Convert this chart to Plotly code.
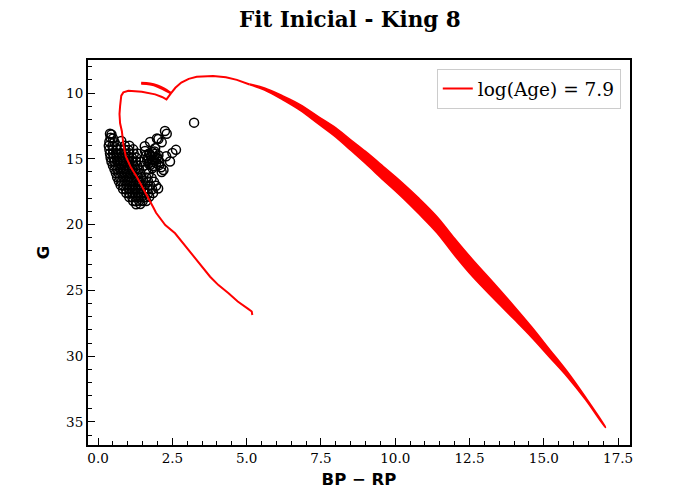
import plotly.graph_objects as go

# isochrone (log Age = 7.9): main sequence -> turnoff -> giant branch
iso_bp_rp = [5.19, 5.17, 5.05, 4.70, 4.39, 4.05, 3.77, 3.45, 3.15, 2.85, 2.59, 2.26,
             2.09, 1.95, 1.86, 1.72, 1.60, 1.47, 1.30, 1.10, 0.93, 0.85, 0.80, 0.74,
             0.72, 0.74, 0.75, 0.78, 0.85, 1.02, 1.47, 1.92, 2.15, 2.30, 2.45, 2.60,
             2.80, 3.05, 3.32, 3.87, 4.30, 4.67, 5.10]
iso_g = [26.87, 26.60, 26.40, 25.85, 25.22, 24.60, 23.96, 23.05, 22.18, 21.40, 20.66, 20.03,
         19.55, 19.10, 18.70, 18.10, 17.60, 17.00, 16.36, 15.65, 14.80, 13.90, 12.90, 12.30,
         11.60, 11.00, 10.50, 10.20, 9.95, 9.83, 9.90, 10.10, 10.30, 10.48, 10.02, 9.60,
         9.20, 8.92, 8.77, 8.71, 8.80, 9.00, 9.35]

# short loop near the top of the giant branch (drawn twice, slightly apart)
hook_bp_rp = [1.45, 1.75, 2.00, 2.20, 2.45]
hook_g_a = [9.22, 9.27, 9.42, 9.62, 9.98]
hook_g_b = [9.30, 9.36, 9.52, 9.74, 10.02]

# broad AGB band: bright and faint edge at each colour
band_bp_rp = [5.10, 5.60, 6.20, 6.80, 7.40, 8.00, 8.50, 9.00, 9.60, 10.20, 10.80,
              11.40, 12.00, 12.60, 13.30, 14.00, 14.60, 15.20, 15.80, 16.40, 17.07]
band_g_top = [9.32, 9.62, 10.20, 10.88, 11.77, 12.65, 13.55, 14.44, 15.58, 16.74, 18.00,
              19.38, 21.05, 22.65, 24.40, 26.20, 27.80, 29.50, 31.20, 33.10, 35.38]
band_g_bot = [9.38, 9.78, 10.50, 11.32, 12.33, 13.35, 14.35, 15.36, 16.62, 17.86, 19.20,
              20.62, 22.35, 23.95, 25.60, 27.20, 28.60, 30.10, 31.60, 33.30, 35.42]

# observed cluster members (King 8)
star_bp_rp = [
    # outliers and the red clump
    3.23, 2.25, 2.31, 2.03, 1.98, 2.14, 1.75, 1.57, 2.62, 2.42, 2.29, 2.20, 2.14, 2.50,
    1.62, 1.72, 1.82, 1.93, 2.03, 1.68, 1.78, 1.88, 1.97, 1.65, 1.80, 1.90, 2.02, 1.70, 1.84, 1.95,
    2.06, 1.74, 1.90, 2.05, 1.86, 1.76, 1.58, 2.12, 1.83, 1.92,
    # main sequence
    0.40, 0.45, 0.42, 0.50, 0.38, 0.55, 0.78,
    0.36, 0.48, 0.62, 0.90, 1.05,
    0.38, 0.50, 0.62, 0.74, 0.88, 1.02, 1.18,
    0.40, 0.50, 0.60, 0.70, 0.80, 0.92, 1.05, 1.20, 1.32,
    0.42, 0.52, 0.62, 0.72, 0.82, 0.92, 1.02, 1.14, 1.28,
    0.45, 0.55, 0.65, 0.75, 0.85, 0.95, 1.05, 1.15, 1.28, 1.45,
    0.50, 0.60, 0.70, 0.80, 0.90, 1.00, 1.10, 1.20, 1.32, 1.52,
    0.55, 0.65, 0.75, 0.85, 0.95, 1.05, 1.15, 1.25, 1.38, 1.62,
    0.60, 0.70, 0.80, 0.90, 1.00, 1.10, 1.20, 1.30, 1.42, 1.70,
    0.64, 0.74, 0.84, 0.94, 1.04, 1.14, 1.24, 1.34, 1.46, 1.62, 1.80,
    0.70, 0.80, 0.90, 1.00, 1.10, 1.20, 1.30, 1.40, 1.52, 1.68, 1.88,
    0.76, 0.86, 0.96, 1.06, 1.16, 1.26, 1.36, 1.46, 1.58, 1.75, 1.95,
    0.84, 0.94, 1.04, 1.14, 1.24, 1.34, 1.44, 1.54, 1.66, 1.82, 2.02,
    0.95, 1.05, 1.15, 1.25, 1.35, 1.45, 1.55, 1.68, 1.85,
    1.05, 1.15, 1.25, 1.35, 1.45, 1.58, 1.72,
    1.18, 1.28, 1.38, 1.50, 1.62,
    1.28, 1.42,
]
star_g = [
    12.25, 12.88, 13.10, 13.50, 13.45, 13.75, 13.72, 14.05, 14.32, 15.20, 14.80, 15.85, 16.00, 14.55,
    14.75, 14.60, 14.50, 14.62, 14.72, 14.95, 14.82, 14.88, 14.92, 15.15, 15.05, 15.12, 15.02, 15.35, 15.25, 15.32,
    15.22, 14.68, 14.45, 15.48, 15.55, 15.45, 14.40, 15.65, 15.70, 14.20,
    13.10, 13.15, 13.40, 13.45, 13.70, 13.72, 13.65,
    14.00, 14.02, 13.98, 14.01, 14.00,
    14.30, 14.32, 14.28, 14.31, 14.30, 14.33, 14.28,
    14.60, 14.62, 14.58, 14.61, 14.60, 14.63, 14.58, 14.62, 14.60,
    14.90, 14.92, 14.88, 14.91, 14.90, 14.93, 14.88, 14.92, 14.90,
    15.20, 15.22, 15.18, 15.21, 15.20, 15.23, 15.18, 15.22, 15.20, 15.22,
    15.50, 15.52, 15.48, 15.51, 15.50, 15.53, 15.48, 15.52, 15.50, 15.52,
    15.80, 15.82, 15.78, 15.81, 15.80, 15.83, 15.78, 15.82, 15.80, 15.82,
    16.10, 16.12, 16.08, 16.11, 16.10, 16.13, 16.08, 16.12, 16.10, 16.12,
    16.40, 16.42, 16.38, 16.41, 16.40, 16.43, 16.38, 16.42, 16.40, 16.42, 16.45,
    16.70, 16.72, 16.68, 16.71, 16.70, 16.73, 16.68, 16.72, 16.70, 16.72, 16.75,
    17.00, 17.02, 16.98, 17.01, 17.00, 17.03, 16.98, 17.02, 17.00, 17.02, 17.05,
    17.30, 17.32, 17.28, 17.31, 17.30, 17.33, 17.28, 17.32, 17.30, 17.32, 17.25,
    17.60, 17.62, 17.58, 17.61, 17.60, 17.63, 17.58, 17.62, 17.60,
    17.90, 17.92, 17.88, 17.91, 17.90, 17.93, 17.88,
    18.20, 18.22, 18.18, 18.21, 18.20,
    18.45, 18.43,
]

iso_red = "#ff0000"

fig = go.Figure()

# stars as open black circles
fig.add_trace(go.Scatter(x=star_bp_rp, y=star_g, mode="markers",
                         marker=dict(symbol="circle-open", size=9, color="black",
                                     line=dict(width=1.5)),
                         showlegend=False))

# AGB band as a filled polygon between its two edges
fig.add_trace(go.Scatter(x=band_bp_rp + band_bp_rp[::-1],
                         y=band_g_top + band_g_bot[::-1],
                         mode="lines", fill="toself", fillcolor=iso_red,
                         line=dict(color=iso_red, width=1.5, shape="spline"),
                         showlegend=False, hoverinfo="skip"))

fig.add_trace(go.Scatter(x=hook_bp_rp, y=hook_g_a, mode="lines",
                         line=dict(color=iso_red, width=2, shape="spline"), showlegend=False))
fig.add_trace(go.Scatter(x=hook_bp_rp, y=hook_g_b, mode="lines",
                         line=dict(color=iso_red, width=2, shape="spline"), showlegend=False))

fig.add_trace(go.Scatter(x=iso_bp_rp, y=iso_g, mode="lines",
                         line=dict(color=iso_red, width=2),
                         name="log(Age) = 7.9"))

axis_style = dict(showline=True, linecolor="black", linewidth=2, mirror=True,
                  ticks="inside", ticklen=7, tickwidth=1.3, tickcolor="black",
                  showgrid=False, zeroline=False,
                  tickfont=dict(family="DejaVu Serif", size=13.5, color="black"))

fig.update_xaxes(range=[-0.34, 17.9], dtick=2.5, tickformat=".1f",
                 minor=dict(dtick=0.5, ticks="inside", ticklen=4, tickcolor="black", tickwidth=1),
                 title=dict(text="<b>BP − RP</b>", standoff=8,
                            font=dict(family="DejaVu Sans", size=16.5, color="black")),
                 **axis_style)
fig.update_yaxes(range=[36.75, 7.49], dtick=5,
                 minor=dict(dtick=1, ticks="inside", ticklen=4, tickcolor="black", tickwidth=1),
                 title=dict(text="<b>G</b>", standoff=12,
                            font=dict(family="DejaVu Sans", size=16.5, color="black")),
                 **axis_style)

# page body has an 8px margin, so the figure is a bit smaller than the window
fig.update_layout(
    width=692, height=492,
    paper_bgcolor="white", plot_bgcolor="white",
    margin=dict(l=80, r=70, t=52, b=55),
    title=dict(text="<b>Fit Inicial - King 8</b>", x=0.494, xref="container",
               y=0.976, yanchor="middle",
               font=dict(family="DejaVu Serif", size=21.5, color="black")),
    legend=dict(x=0.983, y=0.977, xanchor="right", yanchor="top",
                bgcolor="white", bordercolor="#cccccc", borderwidth=1,
                font=dict(family="DejaVu Serif", size=18.5, color="black")),
)

fig.write_html("out.html")
